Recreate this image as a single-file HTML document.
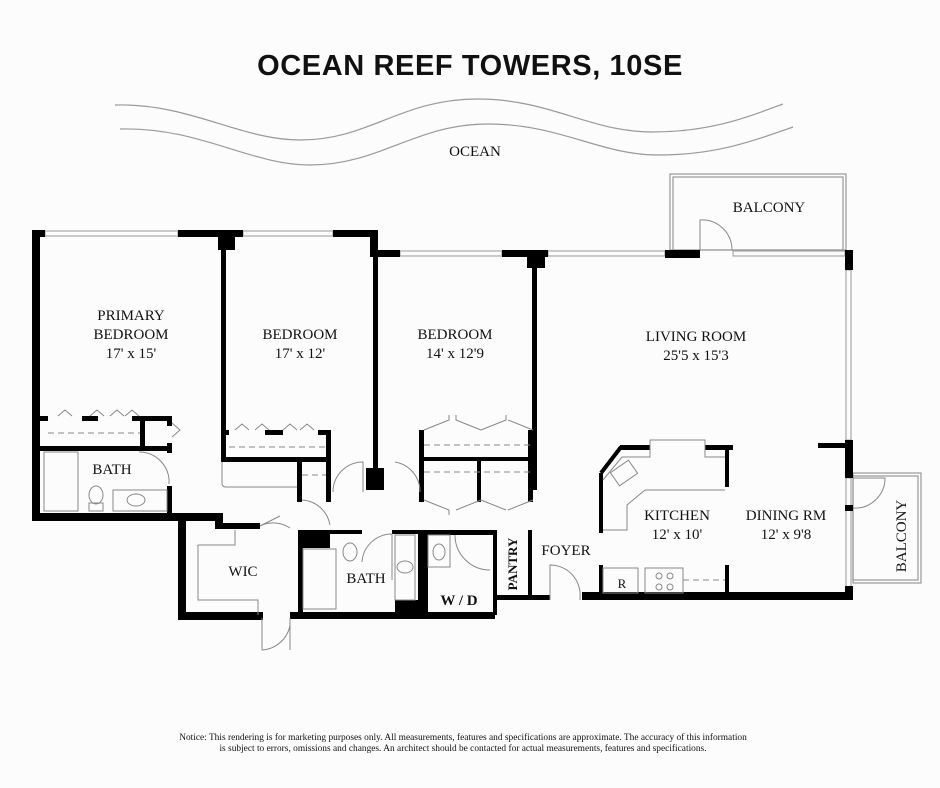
<!DOCTYPE html>
<html><head><meta charset="utf-8"><style>
html,body{margin:0;padding:0;background:#fcfcfc;}
svg{display:block}
text{font-family:"Liberation Serif",serif;fill:#111}
</style></head><body>
<svg width="940" height="788" viewBox="0 0 940 788" xmlns="http://www.w3.org/2000/svg">
<rect width="940" height="788" fill="#fcfcfc"/>
<text x="470" y="75" text-anchor="middle" style="font-family:'Liberation Sans',sans-serif;font-weight:bold;font-size:29px;letter-spacing:0.6px">OCEAN REEF TOWERS, 10SE</text>
<g fill="none" stroke="#999" stroke-width="1.2">
<path d="M115 105 C190 103,240 140,300 140 C370 140,400 99,478 99 C550 99,590 132,652 132 C710 132,745 118,783 104"/>
<path d="M120 129 C200 127,250 165,310 165 C380 165,415 124,488 124 C560 124,600 155,658 155 C715 155,750 142,793 127"/>
</g>
<text x="475" y="156" text-anchor="middle" font-size="15">OCEAN</text>

<g fill="none" stroke="#999" stroke-width="1.2">
<rect x="670" y="174" width="176" height="76"/>
<rect x="673" y="177" width="170" height="73"/>
<rect x="853" y="473" width="68" height="110"/>
<rect x="853" y="476" width="65" height="104"/>
</g>
<text x="769" y="212" text-anchor="middle" font-size="15">BALCONY</text>
<text transform="translate(906,536) rotate(-90)" text-anchor="middle" font-size="15">BALCONY</text>

<g fill="none" stroke="#999" stroke-width="1">
<rect x="45" y="231" width="133" height="5"/>
<rect x="243" y="231" width="90" height="5"/>
<rect x="400" y="251" width="102" height="5"/>
<rect x="548" y="251" width="117" height="5"/>
<rect x="733" y="251" width="112" height="5"/>
<rect x="846" y="270" width="5" height="170"/>
<rect x="846" y="478" width="5" height="115"/>
</g>

<g fill="#000">
<rect x="32" y="230" width="13" height="7"/>
<rect x="32" y="230" width="8" height="290"/>
<rect x="178" y="230" width="65" height="7"/>
<rect x="218" y="230" width="17" height="20"/>
<rect x="221" y="235" width="5" height="227"/>
<rect x="221" y="457" width="110" height="5"/>
<rect x="333" y="230" width="45" height="7"/>
<rect x="370" y="230" width="8" height="27"/>
<rect x="370" y="250" width="30" height="7"/>
<rect x="373" y="250" width="5" height="220"/>
<rect x="366" y="468" width="18" height="22"/>
<rect x="502" y="250" width="46" height="7"/>
<rect x="527" y="250" width="18" height="18"/>
<rect x="532" y="260" width="5" height="230"/>
<rect x="665" y="250" width="35" height="8"/>
<rect x="845" y="250" width="8" height="20"/>
<rect x="845" y="440" width="8" height="38"/>
<rect x="818" y="443" width="30" height="5"/>
<rect x="845" y="505" width="8" height="6"/>
<rect x="582" y="592" width="271" height="8"/>
<rect x="845" y="586" width="8" height="14"/>
<rect x="40" y="416" width="8" height="5"/>
<rect x="82" y="416" width="16" height="5"/>
<rect x="132" y="416" width="40" height="5"/>
<rect x="140" y="416" width="5" height="34"/>
<rect x="40" y="446" width="132" height="5"/>
<rect x="167" y="416" width="5" height="10"/>
<rect x="167" y="443" width="5" height="10"/>
<rect x="167" y="486" width="5" height="30"/>
<rect x="32" y="513" width="190" height="8"/>
<rect x="215" y="513" width="8" height="14"/>
<rect x="215" y="523" width="45" height="6"/>
<rect x="221" y="430" width="8" height="5"/>
<rect x="265" y="430" width="18" height="5"/>
<rect x="318" y="430" width="12" height="5"/>
<rect x="326" y="430" width="5" height="72"/>
<rect x="297" y="462" width="5" height="40"/>
<rect x="419" y="430" width="5" height="72"/>
<rect x="477" y="458" width="4" height="44"/>
<rect x="419" y="457" width="116" height="4"/>
<rect x="528" y="430" width="5" height="72"/>
<rect x="178" y="513" width="8" height="107"/>
<rect x="178" y="612" width="85" height="8"/>
<rect x="290" y="612" width="205" height="7"/>
<rect x="298" y="530" width="5" height="86"/>
<rect x="298" y="530" width="32" height="18"/>
<rect x="330" y="530" width="32" height="4"/>
<rect x="392" y="530" width="40" height="4"/>
<rect x="395" y="600" width="30" height="15"/>
<rect x="418" y="530" width="10" height="86"/>
<rect x="428" y="530" width="67" height="5"/>
<rect x="493" y="530" width="4" height="85"/>
<rect x="493" y="595" width="57" height="5"/>
<rect x="528" y="530" width="4" height="68"/>
<rect x="599" y="473" width="4" height="60"/>
<rect x="620" y="445" width="30" height="5"/>
<rect x="705" y="445" width="28" height="5"/>
<rect x="725" y="445" width="4" height="42"/>
<rect x="599" y="565" width="4" height="30"/>
<rect x="725" y="565" width="4" height="30"/>
</g>
<g fill="none" stroke="#000" stroke-width="4"><path d="M601 473 L621 447"/></g>

<g fill="none" stroke="#888" stroke-width="1">
<path d="M48 433 H140" stroke-dasharray="6 4"/>
<path d="M229 447 H326" stroke-dasharray="6 4"/>
<path d="M424 445 H530 M424 472 H530" stroke-dasharray="6 4"/>
<path d="M302 475 H326" stroke-dasharray="6 4"/>
<path d="M58 416 l7 -6 l7 6 M90 416 l7 -6 l7 6 M110 416 l7 -6 l7 6 M125 416 l7 -6 l7 6"/>
<path d="M235 430 l7 -6 l7 6 M255 430 l7 -6 l7 6 M283 430 l7 -6 l7 6 M300 430 l7 -6 l7 6"/>
<path d="M172 423 l8 7 l-8 7"/>
<path d="M424 430 l25 -10 l0 -5 M481 430 l-25 -10 l0 -5 M481 430 l25 -10 l0 -5 M533 430 l-25 -10"/>
<path d="M424 500 l25 10 l0 5 M481 500 l-25 10 M481 500 l25 10 M533 500 l-25 10"/>
<rect x="44" y="452" width="34" height="59"/>
<rect x="113" y="490" width="54" height="21"/>
<ellipse cx="136" cy="500" rx="9" ry="6"/>
<ellipse cx="96" cy="495" rx="7" ry="9"/><rect x="89" y="503" width="14" height="8"/>
<path d="M139 452 A30 30 0 0 1 169 484"/>
<path d="M222 462 V483 Q222 487 226 487 H297"/>
<path d="M333 492 A30 30 0 0 1 363 462 V492 M395 462 A30 30 0 0 1 420 492"/>
<path d="M302 500 A30 30 0 0 1 330 525"/>
<path d="M260 526 L280 516 M260 526 A30 30 0 0 1 290 528"/>
<path d="M198 545 H235 V530 M198 545 V600 H258 V615"/>
<path d="M262 618 V650 A30 30 0 0 0 290 625 M290 618 V650"/>
<rect x="303" y="549" width="33" height="60"/>
<ellipse cx="350" cy="552" rx="7" ry="9"/>
<path d="M362 562 A30 30 0 0 1 392 534 V580"/>
<rect x="395" y="535" width="20" height="65"/><ellipse cx="405" cy="567" rx="8" ry="6"/>
<rect x="428" y="535" width="22" height="32"/><ellipse cx="439" cy="552" rx="6" ry="8"/>
<path d="M455 535 A35 35 0 0 0 490 570"/>
<path d="M550 600 V565 A30 30 0 0 1 580 598 V600"/>
<path d="M700 250 V220 A30 30 0 0 1 732 250"/>
<path d="M853 478 H885 A30 30 0 0 1 853 508"/>
<path d="M603 480 L622 457 H650 V440 H705 V457 H725 M650 457 V440"/>
<path d="M603 530 H627 V505 L645 490 H725"/>
<rect x="613" y="465" width="22" height="16" transform="rotate(-35 624 473)"/>
<rect x="603" y="568" width="35" height="25"/>
<rect x="645" y="568" width="38" height="25"/>
<circle cx="659" cy="576" r="3"/><circle cx="670" cy="576" r="3"/><circle cx="659" cy="587" r="3"/><circle cx="670" cy="587" r="3"/>
<path d="M683 580 H725" stroke-dasharray="6 4"/>
</g>

<g font-size="15" text-anchor="middle">
<text x="131" y="320">PRIMARY</text>
<text x="131" y="339">BEDROOM</text>
<text x="131" y="358">17' x 15'</text>
<text x="300" y="339">BEDROOM</text>
<text x="300" y="358">17' x 12'</text>
<text x="455" y="339">BEDROOM</text>
<text x="455" y="358">14' x 12'9</text>
<text x="696" y="341">LIVING ROOM</text>
<text x="696" y="360">25'5 x 15'3</text>
<text x="677" y="520">KITCHEN</text>
<text x="677" y="539">12' x 10'</text>
<text x="786" y="520">DINING RM</text>
<text x="786" y="539">12' x 9'8</text>
<text x="112" y="474">BATH</text>
<text x="243" y="576">WIC</text>
<text x="366" y="583">BATH</text>
<text x="566" y="555">FOYER</text>
<text x="622" y="588" font-size="13">R</text>
<text x="459" y="605" font-weight="bold">W / D</text>
<text transform="translate(517,564) rotate(-90)" font-size="13" font-weight="bold">PANTRY</text>
</g>
<g font-size="9.4" text-anchor="middle">
<text x="463" y="740">Notice: This rendering is for marketing purposes only. All measurements, features and specifications are approximate. The accuracy of this information</text>
<text x="463" y="751">is subject to errors, omissions and changes. An architect should be contacted for actual measurements, features and specifications.</text>
</g>
</svg>
</body></html>
